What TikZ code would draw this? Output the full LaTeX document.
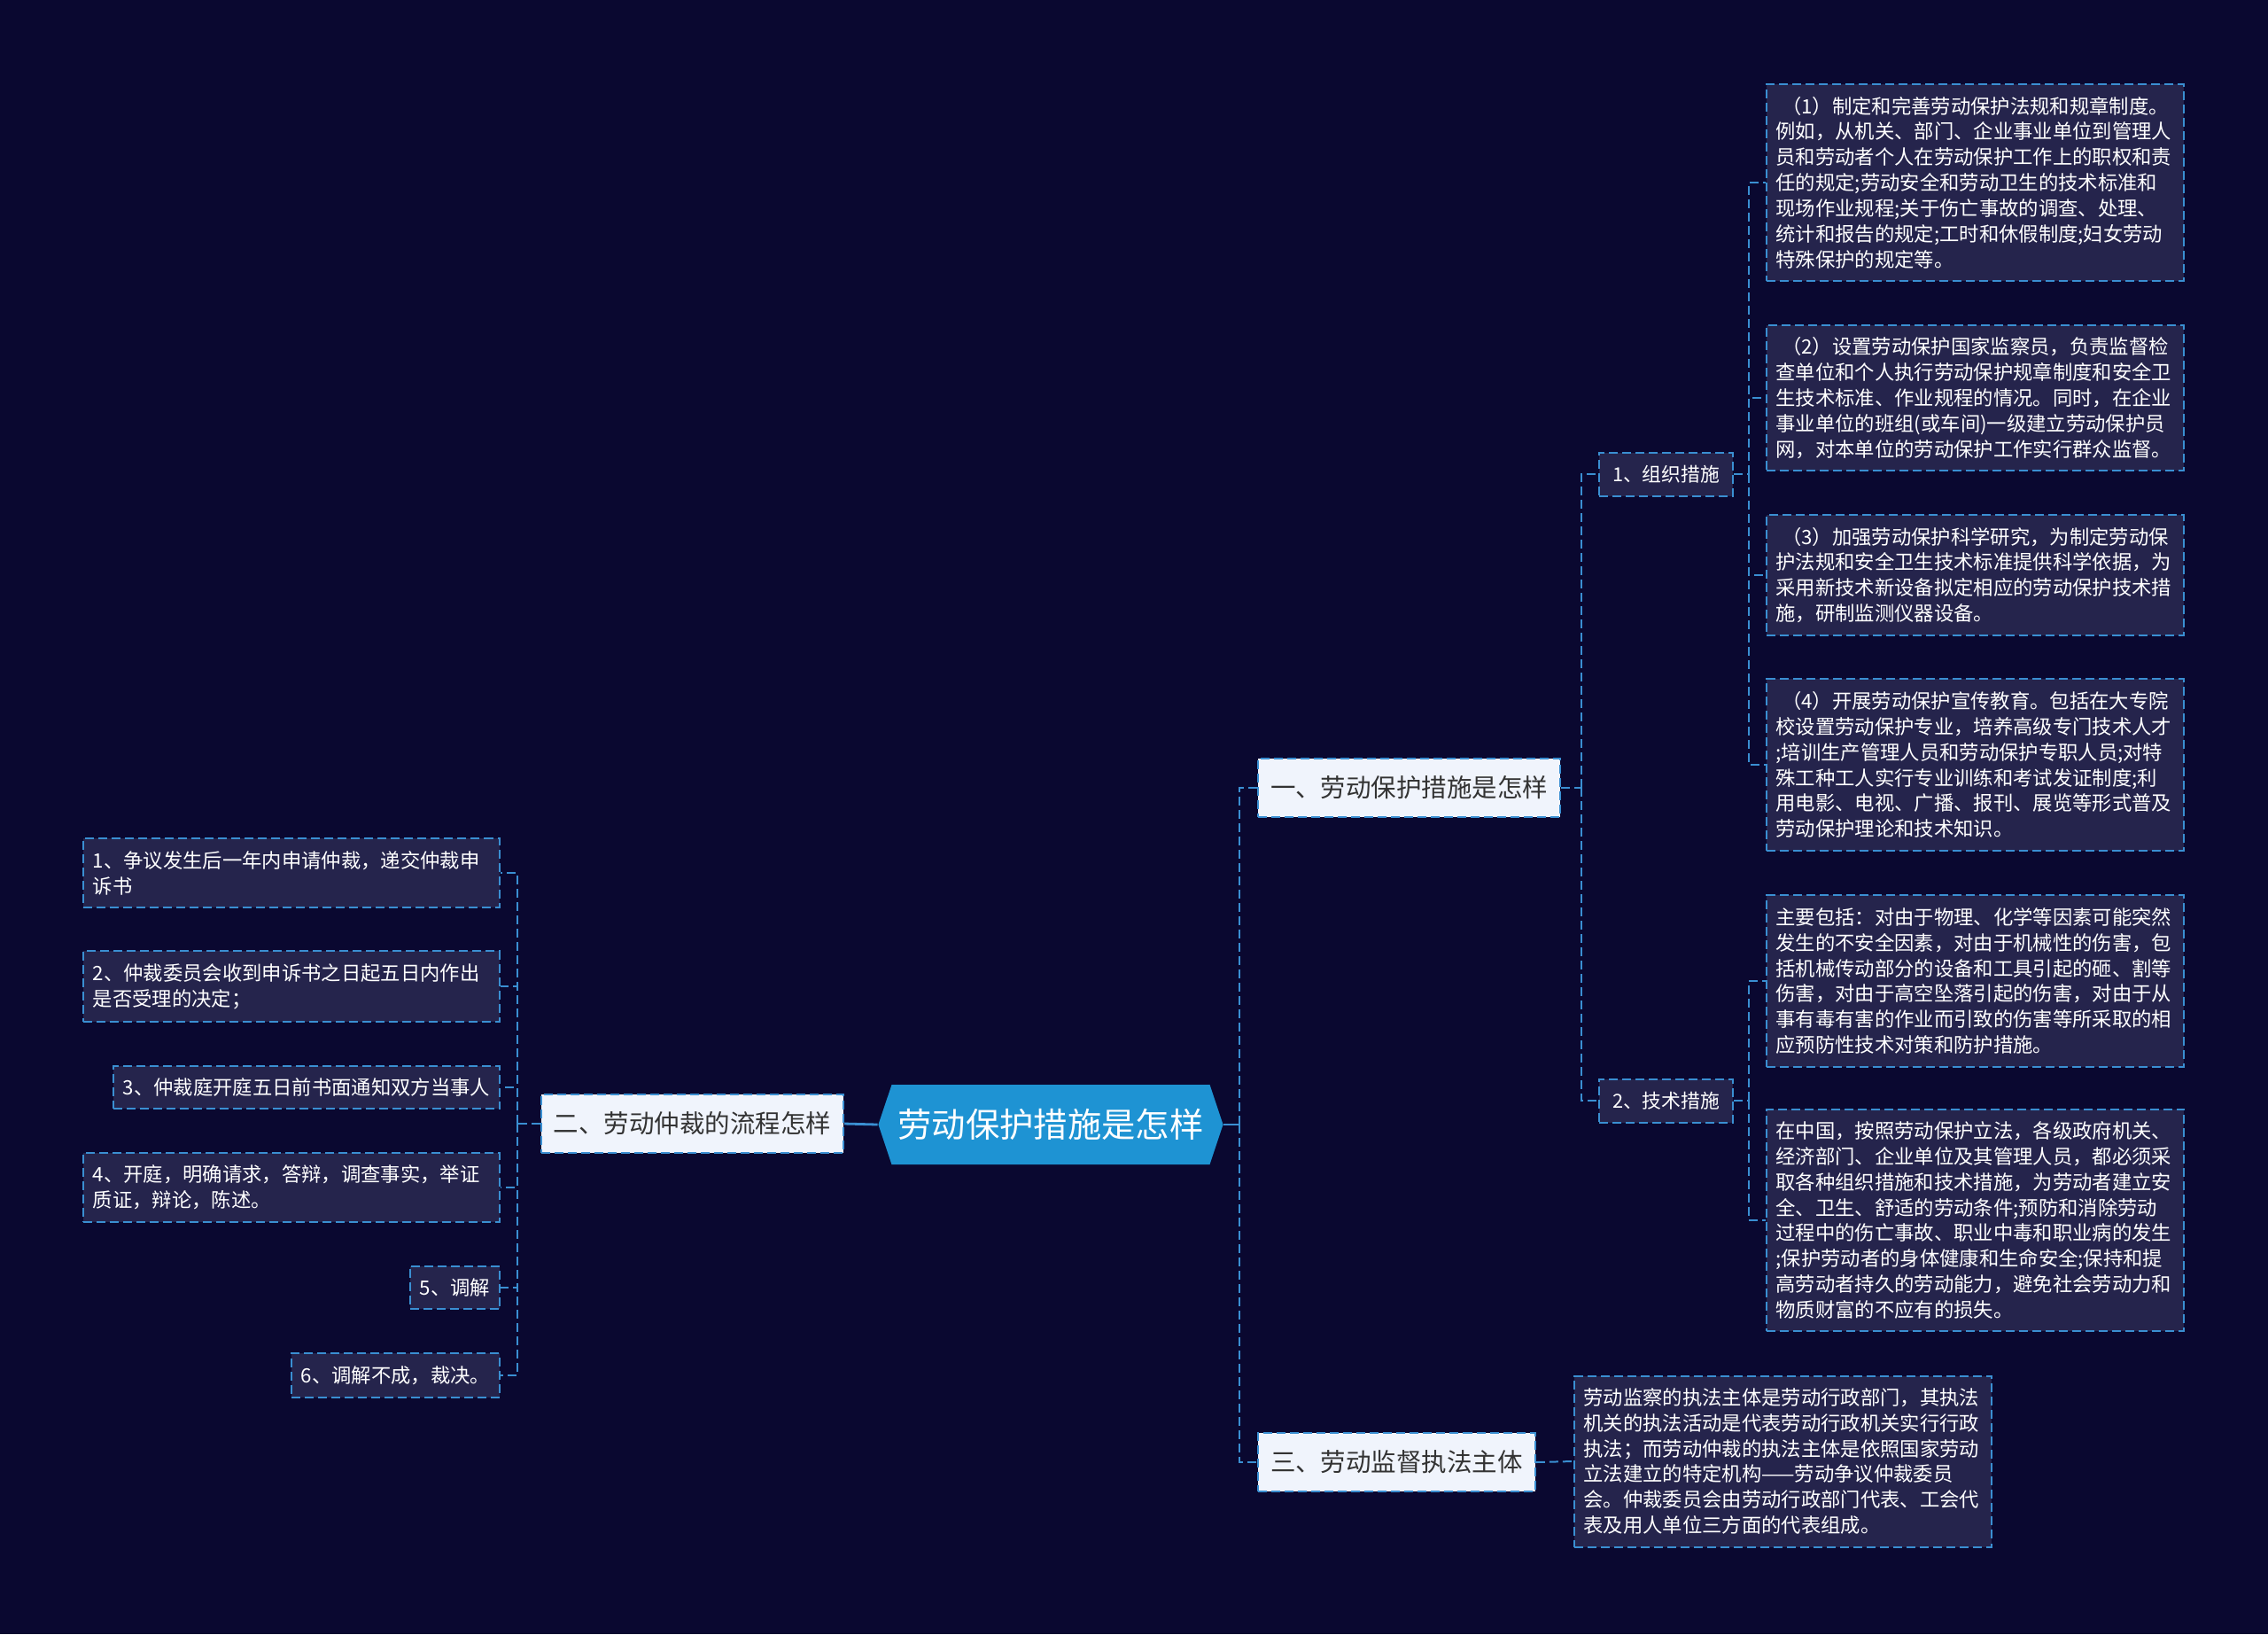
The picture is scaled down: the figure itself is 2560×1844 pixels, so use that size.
\documentclass[tikz,border=0pt]{standalone}
\usepackage{fontspec}
\setmainfont{Noto Sans CJK SC}
\usepackage{tikz}
\usetikzlibrary{shapes.symbols}
\definecolor{bgnavy}{HTML}{0A0830}
\definecolor{boxnavy}{HTML}{25244C}
\definecolor{lineblue}{HTML}{3A8FD2}
\definecolor{rootblue}{HTML}{1E93D3}
\definecolor{topicwhite}{HTML}{F0F4FC}
\definecolor{topictext}{HTML}{333333}
\newcommand{\lead}{\hspace*{.3em}}

\begin{document}
\begin{tikzpicture}[x=0.01cm, y=-0.01cm,
        dashbox/.style={draw=lineblue, line width=0.02cm, dash pattern=on 0.1cm off 0.05cm},
        conn/.style={dashbox},
        stem/.style={draw=lineblue, line width=0.028cm},
        mainidea/.style={signal, signal to=west and east, signal pointer angle=143, fill=rootblue, text=white,
            font=\fontsize{10.9}{13}\selectfont, minimum height=0.9cm, inner xsep=0.07cm},
        topic/.style={dashbox, fill=topicwhite, text=topictext, font=\fontsize{8.1}{10}\selectfont,
            minimum height=0.66cm, inner xsep=0.14cm},
        sub/.style={dashbox, fill=boxnavy, text=white, font=\fontsize{6.2}{8}\selectfont,
            minimum height=0.49cm, inner xsep=0.15cm},
        leaf/.style={dashbox, fill=boxnavy, text=white, align=left, inner xsep=0.11cm, inner ysep=0.14cm,
            font=\fontsize{6.35}{8.2}\selectfont},
        wideleaf/.style={leaf, text width=4.5cm, inner xsep=0.105cm}]
        \fill[bgnavy] (0,0) rectangle (2560,1844);
        \useasboundingbox (0,0) rectangle (2560,1844);

        % Nodes
        \node[mainidea] (root) at (1186, 1269) {劳动保护措施是怎样};

        \node[topic, anchor=west] (prot) at (1419, 889) {一、劳动保护措施是怎样};
        \node[topic, anchor=east] (arb) at (953, 1268) {二、劳动仲裁的流程怎样};
        \node[topic, anchor=west] (superv) at (1419, 1650) {三、劳动监督执法主体};

        \node[sub, anchor=west] (org) at (1804, 535) {1、组织措施};
        \node[sub, anchor=west] (tech) at (1804, 1242) {2、技术措施};

        \node[wideleaf, anchor=west] (org1) at (1993, 206) {\lead（1）制定和完善劳动保护法规和规章制度。\\例如，从机关、部门、企业事业单位到管理人\\员和劳动者个人在劳动保护工作上的职权和责\\任的规定;劳动安全和劳动卫生的技术标准和\\现场作业规程;关于伤亡事故的调查、处理、\\统计和报告的规定;工时和休假制度;妇女劳动\\特殊保护的规定等。};
        \node[wideleaf, anchor=west] (org2) at (1993, 449) {\lead（2）设置劳动保护国家监察员，负责监督检\\查单位和个人执行劳动保护规章制度和安全卫\\生技术标准、作业规程的情况。同时，在企业\\事业单位的班组(或车间)一级建立劳动保护员\\网，对本单位的劳动保护工作实行群众监督。};
        \node[wideleaf, anchor=west] (org3) at (1993, 649) {\lead（3）加强劳动保护科学研究，为制定劳动保\\护法规和安全卫生技术标准提供科学依据，为\\采用新技术新设备拟定相应的劳动保护技术措\\施，研制监测仪器设备。};
        \node[wideleaf, anchor=west] (org4) at (1993, 863) {\lead（4）开展劳动保护宣传教育。包括在大专院\\校设置劳动保护专业，培养高级专门技术人才\\;培训生产管理人员和劳动保护专职人员;对特\\殊工种工人实行专业训练和考试发证制度;利\\用电影、电视、广播、报刊、展览等形式普及\\劳动保护理论和技术知识。};

        \node[wideleaf, anchor=west] (tech1) at (1993, 1107) {主要包括：对由于物理、化学等因素可能突然\\发生的不安全因素，对由于机械性的伤害，包\\括机械传动部分的设备和工具引起的砸、割等\\伤害，对由于高空坠落引起的伤害，对由于从\\事有毒有害的作业而引致的伤害等所采取的相\\应预防性技术对策和防护措施。};
        \node[wideleaf, anchor=west] (tech2) at (1993, 1377) {在中国，按照劳动保护立法，各级政府机关、\\经济部门、企业单位及其管理人员，都必须采\\取各种组织措施和技术措施，为劳动者建立安\\全、卫生、舒适的劳动条件;预防和消除劳动\\过程中的伤亡事故、职业中毒和职业病的发生\\;保护劳动者的身体健康和生命安全;保持和提\\高劳动者持久的劳动能力，避免社会劳动力和\\物质财富的不应有的损失。};

        \node[wideleaf, anchor=west] (superv1) at (1776, 1649) {劳动监察的执法主体是劳动行政部门，其执法\\机关的执法活动是代表劳动行政机关实行行政\\执法；而劳动仲裁的执法主体是依照国家劳动\\立法建立的特定机构——劳动争议仲裁委员\\会。仲裁委员会由劳动行政部门代表、工会代\\表及用人单位三方面的代表组成。};

        \node[leaf, text width=4.48cm, anchor=east] (arb1) at (565, 985) {1、争议发生后一年内申请仲裁，递交仲裁申\\诉书};
        \node[leaf, text width=4.48cm, anchor=east] (arb2) at (565, 1113) {2、仲裁委员会收到申诉书之日起五日内作出\\是否受理的决定；};
        \node[leaf, anchor=east] (arb3) at (565, 1227) {3、仲裁庭开庭五日前书面通知双方当事人};
        \node[leaf, text width=4.48cm, anchor=east] (arb4) at (565, 1340) {4、开庭，明确请求，答辩，调查事实，举证\\质证，辩论，陈述。};
        \node[leaf, anchor=east] (arb5) at (565, 1453) {5、调解};
        \node[leaf, anchor=east] (arb6) at (565, 1552) {6、调解不成，裁决。};

        % Junctions
        \coordinate (rootj) at (1399, 1269);
        \coordinate (protj) at (1785, 889);
        \coordinate (orgj) at (1974, 535);
        \coordinate (techj) at (1974, 1242);
        \coordinate (arbj) at (584, 1268);

        % Edges
        \draw[stem] (root.east) -- (rootj);
        \draw[stem] (root.west) -- (arb.east);
        \foreach \t in {prot, superv} \draw[conn] (rootj) |- (\t.west);
        \draw[conn] (prot.east) -- (protj);
        \foreach \t in {org, tech} \draw[conn] (protj) |- (\t.west);
        \draw[conn] (org.east) -- (orgj);
        \foreach \t in {org1, org2, org3, org4} \draw[conn] (orgj) |- (\t.west);
        \draw[conn] (tech.east) -- (techj);
        \foreach \t in {tech1, tech2} \draw[conn] (techj) |- (\t.west);
        \draw[conn] (superv.east) -- (superv1.west);
        \draw[conn] (arb.west) -- (arbj);
        \foreach \t in {arb1, arb2, arb3, arb4, arb5, arb6} \draw[conn] (arbj) |- (\t.east);
    \end{tikzpicture}
\end{document}
